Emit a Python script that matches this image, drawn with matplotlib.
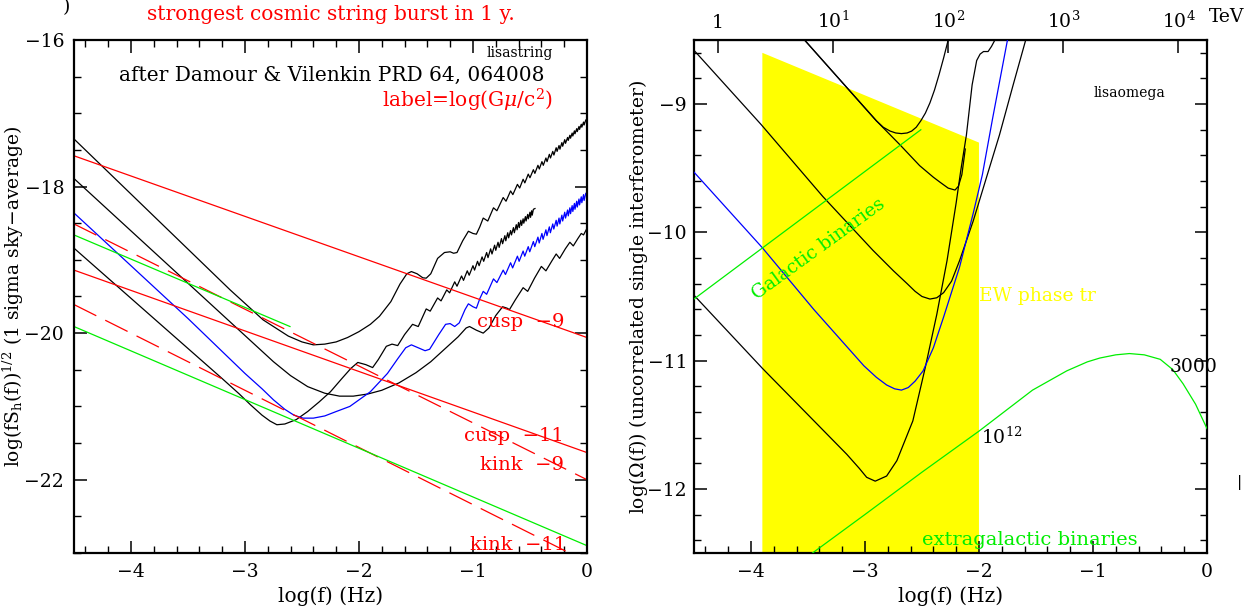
import matplotlib
matplotlib.use('Agg')
import matplotlib.pyplot as plt
from matplotlib.ticker import MultipleLocator, FixedLocator

plt.rcParams['font.family'] = ['DejaVu Serif']
plt.rcParams['mathtext.fontset'] = 'dejavuserif'
plt.rcParams['axes.unicode_minus'] = True

# ---------------- left panel data: log(f) vs log(f S_h)^1/2 ----------------
c1_x = [-4.5, -3.13, -2.84, -2.62, -2.50, -2.40, -2.30, -2.20, -2.10, -2.00, -1.90, -1.82,
        -1.72, -1.64, -1.58, -1.54, -1.49, -1.44, -1.41, -1.37, -1.31, -1.25, -1.20, -1.17, -1.14,
        -1.09, -1.04, -1.00, -0.97, -0.94, -0.91, -0.87,
        -0.82, -0.79, -0.735, -0.71, -0.67, -0.65, -0.61, -0.59, -0.56, -0.545, -0.515, -0.50,
        -0.47, -0.457, -0.43, -0.418, -0.395, -0.383, -0.36, -0.35, -0.33, -0.32, -0.30, -0.29,
        -0.27, -0.262, -0.245, -0.237, -0.22, -0.213, -0.195, -0.188, -0.17, -0.164, -0.15, -0.144,
        -0.13, -0.124, -0.11, -0.105, -0.09, -0.085, -0.07, -0.065, -0.05, -0.045, -0.03, -0.025,
        -0.01, 0.0]
c1_y = [-17.35, -19.41, -19.82, -20.04, -20.12, -20.16, -20.15, -20.12, -20.06, -19.98, -19.88, -19.77,
        -19.57, -19.33, -19.19, -19.16, -19.19, -19.245, -19.25, -19.19, -18.98, -18.90, -18.89, -18.91, -18.90,
        -18.74, -18.61, -18.64, -18.65, -18.55, -18.43, -18.47,
        -18.29, -18.33, -18.15, -18.20, -18.06, -18.11, -17.97, -18.02, -17.90, -17.95, -17.83, -17.88,
        -17.77, -17.82, -17.71, -17.76, -17.66, -17.71, -17.61, -17.66, -17.56, -17.61, -17.52, -17.57,
        -17.47, -17.52, -17.44, -17.49, -17.40, -17.45, -17.36, -17.41, -17.33, -17.37, -17.30, -17.34,
        -17.27, -17.31, -17.24, -17.28, -17.21, -17.25, -17.18, -17.22, -17.15, -17.19, -17.12, -17.16,
        -17.09, -17.09]

c2_x = [-4.5, -2.96, -2.75, -2.60, -2.45, -2.30, -2.17, -2.05, -1.92, -1.80, -1.65, -1.50, -1.37, -1.25,
        -1.13, -1.06, -1.03, -0.97, -0.91, -0.86, -0.80, -0.74, -0.70, -0.68, -0.63, -0.56, -0.52,
        -0.46, -0.40, -0.36, -0.31, -0.27, -0.24, -0.19, -0.15, -0.12, -0.08, -0.05, -0.03, 0.0]
c2_y = [-17.89, -20.09, -20.39, -20.58, -20.73, -20.82, -20.86, -20.86, -20.83, -20.78, -20.68, -20.54, -20.39, -20.22,
        -20.05, -19.93, -19.91, -19.96, -20.00, -19.93, -19.76, -19.64, -19.66, -19.68, -19.55, -19.38, -19.43,
        -19.25, -19.09, -19.15, -19.02, -18.92, -18.98, -18.85, -18.76, -18.81, -18.71, -18.64, -18.66, -18.57]

c3_x = [-4.5, -3.20, -3.05, -2.95, -2.85, -2.78, -2.72, -2.65, -2.55, -2.45, -2.35, -2.25, -2.15, -2.07,
        -2.01, -1.94, -1.88, -1.83, -1.76, -1.71, -1.66, -1.60, -1.53, -1.48,
        -1.41, -1.375, -1.31, -1.28, -1.23, -1.205, -1.16, -1.14, -1.10, -1.083, -1.05, -1.033,
        -1.00, -0.986, -0.96, -0.946, -0.92, -0.906, -0.88, -0.868, -0.845, -0.833, -0.81, -0.80,
        -0.78, -0.77, -0.75, -0.74, -0.72, -0.712, -0.695, -0.687, -0.67, -0.662, -0.645, -0.637,
        -0.62, -0.613, -0.60, -0.593, -0.58, -0.573, -0.56, -0.554, -0.54, -0.534, -0.52, -0.514,
        -0.50, -0.495, -0.485, -0.48, -0.47, -0.456]
c3_y = [-18.84, -20.62, -20.83, -20.98, -21.12, -21.20, -21.25, -21.24, -21.18, -21.07, -20.94, -20.80, -20.62, -20.48,
        -20.40, -20.43, -20.47, -20.36, -20.18, -20.15, -20.17, -20.02, -19.88, -19.91,
        -19.67, -19.70, -19.52, -19.56, -19.41, -19.45, -19.30, -19.36, -19.22, -19.28, -19.15, -19.21,
        -19.08, -19.14, -19.02, -19.08, -18.96, -19.02, -18.90, -18.97, -18.85, -18.92, -18.80, -18.87,
        -18.76, -18.83, -18.71, -18.78, -18.67, -18.74, -18.63, -18.70, -18.60, -18.66, -18.56, -18.63,
        -18.52, -18.59, -18.49, -18.56, -18.46, -18.53, -18.44, -18.50, -18.41, -18.47, -18.38, -18.44,
        -18.35, -18.42, -18.33, -18.39, -18.31, -18.30]

b_x = [-4.5, -3.50, -3.00, -2.85, -2.75, -2.65, -2.57, -2.49, -2.40, -2.30, -2.20, -2.08, -1.90,
       -1.75, -1.66, -1.59, -1.54, -1.48, -1.42, -1.38, -1.30, -1.24, -1.20, -1.16, -1.12, -1.07,
       -1.04, -1.00, -0.97, -0.94, -0.91, -0.88,
       -0.82, -0.79, -0.735, -0.715, -0.67, -0.652, -0.61, -0.595, -0.56, -0.546, -0.515, -0.502,
       -0.47, -0.458, -0.43, -0.419, -0.395, -0.385, -0.36, -0.351, -0.33, -0.321, -0.30, -0.291,
       -0.27, -0.262, -0.245, -0.238, -0.22, -0.213, -0.195, -0.188, -0.17, -0.164, -0.15, -0.144,
       -0.13, -0.124, -0.11, -0.105, -0.09, -0.085, -0.07, -0.065, -0.05, -0.045, -0.03, -0.025,
       -0.01, 0.0]
b_y = [-18.36, -19.80, -20.55, -20.76, -20.91, -21.04, -21.12, -21.16, -21.16, -21.13, -21.07, -21.00, -20.80,
       -20.55, -20.35, -20.20, -20.16, -20.20, -20.24, -20.22, -20.02, -19.88, -19.87, -19.91, -19.86, -19.68,
       -19.60, -19.64, -19.66, -19.53, -19.43, -19.47,
       -19.26, -19.31, -19.14, -19.20, -19.04, -19.11, -18.95, -19.02, -18.88, -18.95, -18.82, -18.89,
       -18.75, -18.82, -18.69, -18.77, -18.64, -18.72, -18.59, -18.67, -18.55, -18.63, -18.51, -18.58,
       -18.46, -18.54, -18.43, -18.51, -18.39, -18.47, -18.35, -18.43, -18.32, -18.40, -18.29, -18.37,
       -18.26, -18.34, -18.23, -18.31, -18.20, -18.28, -18.17, -18.25, -18.14, -18.22, -18.11, -18.19,
       -18.09, -18.11]

cusp9_x = [-4.5, 0.0];  cusp9_y = [-17.58, -20.06]
cusp11_x = [-4.5, 0.0]; cusp11_y = [-19.14, -21.63]
kink9_x = [-4.5, 0.0];  kink9_y = [-18.51, -22.00]
kink11_x = [-4.5, 0.0]; kink11_y = [-19.61, -23.12]
gal_l_x = [-4.5, -2.605]; gal_l_y = [-18.66, -19.91]
xgal_l_x = [-4.5, 0.0];   xgal_l_y = [-19.91, -22.90]

# ---------------- right panel data: log(f) vs log(Omega) ----------------
ra_x = [-4.5, -3.90, -3.16, -3.05, -2.985, -2.91, -2.81, -2.72, -2.58, -2.47, -2.37, -2.28, -2.20,
        -2.16, -2.11, -2.06, -2.02, -1.99, -1.96, -1.92, -1.89, -1.86]
ra_y = [-10.49, -11.06, -11.73, -11.84, -11.91, -11.94, -11.90, -11.78, -11.47, -11.05, -10.64, -10.22, -9.77,
        -9.52, -9.24, -8.85, -8.66, -8.61, -8.59, -8.59, -8.55, -8.50]

rb2_x = [-3.53, -3.13, -2.90, -2.69, -2.52, -2.40, -2.34, -2.27, -2.21, -2.18, -2.15, -2.12]
rb2_y = [-8.50, -8.90, -9.13, -9.32, -9.48, -9.57, -9.61, -9.655, -9.67, -9.64, -9.55, -9.35]

rb1_x = [-3.53, -3.13, -2.90, -2.84, -2.78, -2.73, -2.68, -2.63, -2.59, -2.55, -2.51, -2.47, -2.43, -2.39, -2.35, -2.31, -2.27]
rb1_y = [-8.50, -8.90, -9.13, -9.18, -9.21, -9.225, -9.23, -9.225, -9.21, -9.18, -9.13, -9.07, -8.99, -8.89, -8.77, -8.64, -8.50]

rb3_x = [-4.5, -3.91, -3.37, -2.93, -2.75, -2.63, -2.56, -2.50, -2.43, -2.37, -2.31, -2.24, -2.17, -2.05, -1.93, -1.82, -1.70, -1.59]
rb3_y = [-8.58, -9.16, -9.72, -10.14, -10.30, -10.40, -10.46, -10.50, -10.52, -10.51, -10.47, -10.38, -10.22, -9.91, -9.56, -9.24, -8.85, -8.50]

rbl_x = [-4.5, -3.90, -3.45, -3.01, -2.90, -2.81, -2.74, -2.68, -2.62, -2.56, -2.49, -2.40, -2.31, -2.17, -2.05, -1.97, -1.88, -1.75]
rbl_y = [-9.53, -10.12, -10.60, -11.04, -11.13, -11.19, -11.22, -11.23, -11.21, -11.16, -11.08, -10.90, -10.66, -10.27, -9.85, -9.55, -9.11, -8.50]

galb_x = [-4.5, -2.51]; galb_y = [-10.52, -9.20]
xgal_x = [-3.46, -3.0, -2.5, -2.0, -1.53, -1.23, -1.05, -0.94, -0.80, -0.68, -0.55, -0.41, -0.30, -0.21, -0.10, 0.0]
xgal_y = [-12.5, -12.2, -11.87, -11.55, -11.23, -11.08, -11.01, -10.98, -10.955, -10.945, -10.955, -10.99, -11.07, -11.18, -11.34, -11.53]

ew_x = [-3.90, -3.90, -2.0, -2.0]
ew_y = [-12.5, -8.60, -9.30, -12.5]

tev_pos = [-4.29, -3.28, -2.27, -1.26, -0.25]
tev_labels = ['1', r'$10^1$', r'$10^2$', r'$10^3$', r'$10^4$']

RED = '#ff0000'; GREEN = '#00ee00'; BLUE = '#0000ff'; YEL = '#ffff00'

fig = plt.figure(figsize=(12.47, 6.06), dpi=100)
axL = fig.add_axes([0.0593, 0.0875, 0.4114, 0.8465])
axR = fig.add_axes([0.5565, 0.0875, 0.4114, 0.8465])

FS = 13.5   # tick labels
FT = 14.5   # annotation texts
lw = 0.9

def style(ax):
    for s in ax.spines.values():
        s.set_linewidth(1.6)
    ax.tick_params(which='both', direction='in', labelsize=FS, pad=7)
    ax.tick_params(which='major', length=9, width=1.1)
    ax.tick_params(which='minor', length=5, width=1.0)

# ---- left
axL.plot(c1_x, c1_y, color='k', lw=lw)
axL.plot(c2_x, c2_y, color='k', lw=lw)
axL.plot(c3_x, c3_y, color='k', lw=lw)
axL.plot(b_x, b_y, color=BLUE, lw=lw)
axL.plot(cusp9_x, cusp9_y, color=RED, lw=lw)
axL.plot(cusp11_x, cusp11_y, color=RED, lw=lw)
axL.plot(kink9_x, kink9_y, color=RED, lw=lw, dashes=(20, 8))
axL.plot(kink11_x, kink11_y, color=RED, lw=lw, dashes=(20, 8))
axL.plot(gal_l_x, gal_l_y, color=GREEN, lw=lw)
axL.plot(xgal_l_x, xgal_l_y, color=GREEN, lw=lw)
axL.set_xlim(-4.5, 0)
axL.set_ylim(-23, -16)
style(axL)
axL.xaxis.set_major_locator(MultipleLocator(1))
axL.xaxis.set_minor_locator(MultipleLocator(0.2))
axL.yaxis.set_major_locator(MultipleLocator(2))
axL.yaxis.set_minor_locator(MultipleLocator(0.5))
axL.tick_params(which='both', top=True, right=True)
axL.set_xlabel('log(f) (Hz)', fontsize=FT, labelpad=4)
axL.set_ylabel(r'log(fS$_{\rm h}$(f))$^{1/2}$ (1 sigma sky$-$average)', fontsize=FS)
axL.yaxis.set_label_coords(-0.0936, 0.5)

axL.text(0.5, 1.049, 'strongest cosmic string burst in 1 y.', color=RED, fontsize=FT,
         transform=axL.transAxes, ha='center', va='center')
axL.text(-0.3, -16.18, 'lisastring', fontsize=10, ha='right', va='center')
axL.text(-2.24, -16.48, 'after Damour & Vilenkin PRD 64, 064008', fontsize=FT, ha='center', va='center')
axL.text(-0.3, -16.82, r'label=log(G$\mu$/c$^2$)', fontsize=FT, ha='right', va='center', color=RED)
axL.text(-0.2, -19.85, 'cusp  \u22129', fontsize=FT - 0.5, ha='right', va='center', color=RED)
axL.text(-0.2, -21.41, 'cusp  \u221211', fontsize=FT - 0.5, ha='right', va='center', color=RED)
axL.text(-0.2, -21.80, 'kink  \u22129', fontsize=FT - 0.5, ha='right', va='center', color=RED)
axL.text(-0.18, -22.89, 'kink  \u221211', fontsize=FT - 0.5, ha='right', va='center', color=RED)
fig.text(66 / 1247, 1 - 7 / 606, ')', fontsize=FS, ha='center', va='center')

# ---- right
axR.fill(ew_x, ew_y, color=YEL, lw=0, zorder=1)
axR.plot(ra_x, ra_y, color='k', lw=lw, zorder=3)
axR.plot(rb1_x, rb1_y, color='k', lw=lw, zorder=3)
axR.plot(rb2_x, rb2_y, color='k', lw=lw, zorder=3)
axR.plot(rb3_x, rb3_y, color='k', lw=lw, zorder=3)
axR.plot(rbl_x, rbl_y, color=BLUE, lw=lw, zorder=3)
axR.plot(galb_x, galb_y, color=GREEN, lw=lw, zorder=3)
axR.plot(xgal_x, xgal_y, color=GREEN, lw=lw, zorder=3)
axR.set_xlim(-4.5, 0)
axR.set_ylim(-12.5, -8.5)
style(axR)
axR.xaxis.set_major_locator(MultipleLocator(1))
axR.xaxis.set_minor_locator(MultipleLocator(0.2))
axR.yaxis.set_major_locator(MultipleLocator(1))
axR.yaxis.set_minor_locator(MultipleLocator(0.2))
axR.tick_params(which='both', top=False, right=True)
axR.tick_params(axis='y', pad=5)
axR.set_xlabel('log(f) (Hz)', fontsize=FT, labelpad=4)
axR.set_ylabel(r'log($\Omega$(f)) (uncorrelated single interferometer)', fontsize=FS)
axR.yaxis.set_label_coords(-0.086, 0.5)
sec = axR.secondary_xaxis('top')
sec.xaxis.set_major_locator(FixedLocator(tev_pos))
sec.set_xticklabels(tev_labels)
sec.tick_params(direction='in', length=9, width=1.1, labelsize=FS, pad=6)
sec.xaxis.set_minor_locator(FixedLocator([]))
axR.text(1.004, 1.045, 'TeV', transform=axR.transAxes, fontsize=FS, ha='left', va='center')

axR.text(-0.68, -8.91, 'lisaomega', fontsize=10, ha='center', va='center')
axR.text(-2.0, -10.5, 'EW phase tr', fontsize=FS, ha='left', va='center', color=YEL)
axR.text(-3.41, -10.13, 'Galactic binaries', fontsize=FS, ha='center', va='center', color=GREEN,
         rotation=36, rotation_mode='anchor')
axR.text(-0.12, -11.05, '3000', fontsize=FS, ha='center', va='center')
axR.text(-1.98, -11.6, r'10$^{12}$', fontsize=FS, ha='left', va='center')
axR.text(-2.5, -12.4, 'extragalactic binaries', fontsize=FT - 0.5, ha='left', va='center', color=GREEN)
fig.text(1240 / 1247, 1 - 482 / 606, '|', fontsize=11, ha='center', va='center')

fig.savefig('out.png', dpi=100)
